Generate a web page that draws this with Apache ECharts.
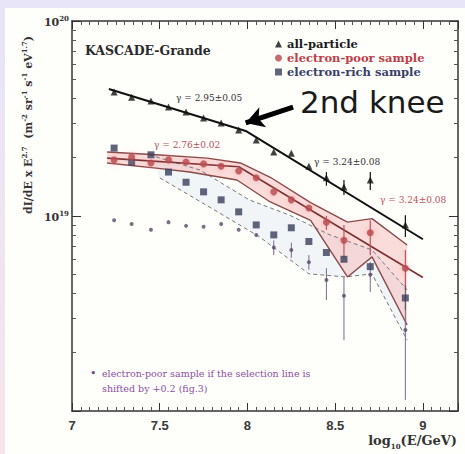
<!DOCTYPE html>
<html>
<head>
<meta charset="utf-8">
<script src="https://cdn.jsdelivr.net/npm/echarts@6/dist/echarts.min.js"></script>
<style>
html, body { margin: 0; padding: 0; background: #ffffff; }
#chart { width: 465px; height: 454px; }
</style>
</head>
<body>
<div id="chart"></div>
<script>
// log10(E/GeV) bin centres shared by all samples
const energyBins = [7.24, 7.34, 7.45, 7.55, 7.65, 7.75, 7.85, 7.95, 8.05, 8.15, 8.25, 8.35, 8.45, 8.55, 8.70, 8.90];

// dI/dE x E^2.7 per sample
const allParticle   = [4.33e19, 4.07e19, 3.89e19, 3.62e19, 3.41e19, 3.18e19, 3.00e19, 2.76e19, 2.45e19, 2.13e19, 2.10e19, 1.80e19, 1.57e19, 1.41e19, 1.53e19, 9.0e18];
const electronPoor  = [1.94e19, 2.01e19, 1.87e19, 1.94e19, 1.89e19, 1.85e19, 1.80e19, 1.70e19, 1.57e19, 1.33e19, 1.21e19, 1.10e19, 9.3e18, 7.5e18, 8.2e18, 5.4e18];
const electronRich  = [2.23e19, 1.89e19, 2.06e19, 1.68e19, 1.49e19, 1.33e19, 1.21e19, 1.05e19, 9.0e18, 8.0e18, 8.7e18, 7.4e18, 6.5e18, 6.0e18, 5.5e18, 3.8e18];
const shiftedPoor   = [9.5e18, 9.1e18, 8.5e18, 9.3e18, 8.9e18, 8.8e18, 9.1e18, 8.5e18, 8.0e18, 6.9e18, 6.7e18, 5.8e18, 4.7e18, 3.9e18, 5.0e18, 2.6e18];

// error bars [log10E, low, high]
const allParticleErr = [[8.45, 1.43e19, 1.68e19], [8.55, 1.28e19, 1.53e19], [8.70, 1.36e19, 1.68e19], [8.90, 7.8e18, 1.01e19]];
const electronPoorErr = [[8.45, 8.5e18, 1.0e19], [8.55, 6.1e18, 9.0e18], [8.70, 6.3e18, 9.5e18], [8.90, 4.18e18, 6.7e18]];
const electronRichErr = [[8.90, 3.3e18, 4.4e18]];
const shiftedPoorErr = [[8.15, 6.3e18, 7.5e18], [8.25, 6.1e18, 7.3e18], [8.35, 5.3e18, 6.3e18], [8.45, 3.71e18, 5.4e18], [8.55, 2.31e18, 4.87e18], [8.70, 4.08e18, 5.8e18], [8.90, 1.14e18, 3.71e18]];

// broken power-law fits [log10E, value]
const allParticleFit  = [[7.21, 4.48e19], [7.99, 2.73e19], [9.00, 7.6e18]];
const electronPoorFit = [[7.20, 1.98e19], [7.95, 1.79e19], [9.00, 4.84e18]];

// systematic band of the electron-poor sample
const poorBandUpper = [[7.20, 2.13e19], [7.48, 2.06e19], [7.77, 1.98e19], [7.96, 1.87e19], [8.13, 1.58e19], [8.36, 1.17e19], [8.57, 9.3e18], [8.71, 9.7e18], [8.91, 7.1e18]];
const poorBandLower = [[7.20, 1.87e19], [7.48, 1.76e19], [7.67, 1.68e19], [7.94, 1.53e19], [8.13, 1.18e19], [8.36, 9.5e18], [8.57, 4.87e18], [8.71, 6.17e18], [8.91, 2.76e18]];

// systematic band of the electron-rich sample
const richBandUpper = [[7.44, 2.06e19], [7.73, 1.72e19], [8.01, 1.21e19], [8.24, 1.01e19], [8.47, 8.0e18], [8.71, 6.7e18], [8.91, 4.18e18]];
const richBandLower = [[7.50, 1.57e19], [7.83, 1.05e19], [8.07, 7.8e18], [8.35, 5.05e18], [8.56, 4.87e18], [8.71, 5.05e18], [8.91, 2.31e18]];

// knee arrow, tail then tip
const kneeArrow = [[8.26, 3.62e19], [7.99, 3.0e19]];

const xTicks = [7, 7.5, 8, 8.5, 9];

const serif = '"DejaVu Serif", "Liberation Serif", serif';
const pair = (xs, ys) => xs.map((x, i) => [x, ys[i]]);

function bandPolygon(upper, lower, fill) {
  return function (params, api) {
    const pts = upper.concat(lower.slice().reverse()).map(p => api.coord(p));
    return { type: 'polygon', shape: { points: pts }, style: { fill: fill }, silent: true };
  };
}

function errorBars(color, width) {
  return function (params, api) {
    const x = api.value(0);
    const a = api.coord([x, api.value(1)]);
    const b = api.coord([x, api.value(2)]);
    return { type: 'line', shape: { x1: a[0], y1: a[1], x2: b[0], y2: b[1] }, style: { stroke: color, lineWidth: width } };
  };
}

const chart = echarts.init(document.getElementById('chart'), null, { renderer: 'svg' });

const sup = { fontFamily: serif, fontWeight: 'bold', fontSize: 7, color: '#333', verticalAlign: 'bottom', padding: [0, 0, 6, 0] };

chart.setOption({
  backgroundColor: '#fefefb',
  animation: false,
  title: {
    text: 'KASCADE-Grande',
    left: 80, top: 39,
    textStyle: { fontFamily: serif, fontWeight: 'bold', fontSize: 12.5, color: '#2a2a2a' }
  },
  legend: {
    orient: 'vertical',
    left: 270, top: 33,
    itemWidth: 7, itemHeight: 7, itemGap: 2,
    textStyle: { fontFamily: serif, fontWeight: 'bold', fontSize: 11.5 },
    data: [
      { name: 'all-particle', icon: 'triangle', textStyle: { color: '#1a1a1a' } },
      { name: 'electron-poor sample', icon: 'circle', textStyle: { color: '#c0404a' } },
      { name: 'electron-rich sample', icon: 'rect', textStyle: { color: '#3a3f6a' } }
    ]
  },
  grid: { left: 72, right: 7, top: 21, bottom: 43 },
  xAxis: [{
    type: 'value', min: 7, max: 9.2, interval: 0.5,
    axisLine: { lineStyle: { color: '#333', width: 1.5 } },
    axisTick: { inside: true, length: 8, lineStyle: { color: '#333' } },
    minorTick: { show: true, splitNumber: 10, length: 4, lineStyle: { color: '#555' } },
    splitLine: { show: false },
    axisLabel: {
      margin: 8,
      fontFamily: '"Liberation Sans", Arial, sans-serif', fontWeight: 'bold', fontSize: 13, color: '#3a3a3a',
      formatter: v => xTicks.includes(Math.round(v * 10) / 10) ? String(v) : ''
    }
  }, {
    type: 'value', min: 7, max: 9.2, interval: 0.5, position: 'top',
    axisLine: { lineStyle: { color: '#333', width: 1.5 } },
    axisTick: { inside: true, length: 8, lineStyle: { color: '#333' } },
    minorTick: { show: true, splitNumber: 10, length: 4, lineStyle: { color: '#555' } },
    splitLine: { show: false },
    axisLabel: { show: false }
  }],
  yAxis: [{
    type: 'log', logBase: 10, min: 1e18, max: 1e20,
    axisLine: { show: true, lineStyle: { color: '#333', width: 1.5 } },
    axisTick: { inside: true, length: 9, lineStyle: { color: '#333' } },
    minorTick: { show: true, splitNumber: 9, length: 4, lineStyle: { color: '#555' } },
    splitLine: { show: false },
    axisLabel: {
      margin: 3,
      formatter: v => {
        const e = Math.round(Math.log10(v));
        return e >= 19 ? '{b|10}{s|' + e + '}' : '';
      },
      rich: {
        b: { fontFamily: serif, fontWeight: 'bold', fontSize: 11, color: '#333', verticalAlign: 'bottom' },
        s: sup
      }
    }
  }, {
    type: 'log', logBase: 10, min: 1e18, max: 1e20, position: 'right',
    axisLine: { show: true, lineStyle: { color: '#333', width: 1.5 } },
    axisTick: { inside: true, length: 9, lineStyle: { color: '#333' } },
    minorTick: { show: true, splitNumber: 9, length: 4, lineStyle: { color: '#555' } },
    splitLine: { show: false },
    axisLabel: { show: false }
  }],
  graphic: [
    { type: 'rect', shape: { x: 0, y: 0, width: 465, height: 8 }, style: { fill: '#e7e5f7' }, silent: true },
    { type: 'rect', shape: { x: 0, y: 0, width: 5, height: 454 },
      style: { fill: new echarts.graphic.LinearGradient(0, 0, 0, 1, [{ offset: 0, color: '#e7e5f7' }, { offset: 1, color: '#f6e3ec' }]) }, silent: true },
    {
      type: 'text', x: 27, y: 125, rotation: Math.PI / 2,
      style: {
        text: '{b|dI/dE x E}{s|2.7}{b|  (m}{s|-2}{b| sr}{s|-1}{b| s}{s|-1}{b| eV}{s|1.7}{b|)}',
        align: 'center', verticalAlign: 'middle',
        rich: {
          b: { fontFamily: serif, fontWeight: 'bold', fontSize: 11, fill: '#333', verticalAlign: 'bottom' },
          s: { fontFamily: serif, fontWeight: 'bold', fontSize: 7, fill: '#333', verticalAlign: 'bottom', padding: [0, 0, 6, 0] }
        }
      }
    },
    {
      type: 'text', right: 8, top: 434,
      style: {
        text: '{b|log}{s|10}{b|(E/GeV)}',
        rich: {
          b: { fontFamily: serif, fontWeight: 'bold', fontSize: 13, fill: '#333', verticalAlign: 'top' },
          s: { fontFamily: serif, fontWeight: 'bold', fontSize: 7, fill: '#333', verticalAlign: 'top', padding: [9, 0, 0, 0] }
        }
      }
    },
    { type: 'text', x: 300, y: 102, style: { text: '2nd knee', fontFamily: '"DejaVu Sans", sans-serif', fontSize: 31, fill: '#1a1a1a', verticalAlign: 'middle' } },
    { type: 'text', x: 176, y: 98, style: { text: 'γ = 2.95±0.05', fontFamily: serif, fontSize: 9, fill: '#333', verticalAlign: 'middle' } },
    { type: 'text', x: 154, y: 145, style: { text: 'γ = 2.76±0.02', fontFamily: serif, fontSize: 9, fill: '#b0505a', verticalAlign: 'middle' } },
    { type: 'text', x: 314, y: 162, style: { text: 'γ = 3.24±0.08', fontFamily: serif, fontSize: 9, fill: '#333', verticalAlign: 'middle' } },
    { type: 'text', x: 380, y: 200, style: { text: 'γ = 3.24±0.08', fontFamily: serif, fontSize: 9, fill: '#c0505a', verticalAlign: 'middle' } },
    { type: 'text', x: 90, y: 373, style: { text: '•', fontFamily: serif, fontSize: 11, fill: '#6a4a7a', verticalAlign: 'middle' } },
    { type: 'text', x: 102, y: 373, style: { text: 'electron-poor sample if the selection line is', fontFamily: serif, fontSize: 9.5, fill: '#8a4f9e', verticalAlign: 'middle' } },
    { type: 'text', x: 102, y: 388, style: { text: 'shifted by +0.2 (fig.3)', fontFamily: serif, fontSize: 9.5, fill: '#8a4f9e', verticalAlign: 'middle' } }
  ],
  series: [
    { type: 'custom', name: 'rich band', data: [[7.5, 1e19]], renderItem: bandPolygon(richBandUpper, richBandLower, 'rgba(210,222,240,0.28)'), z: 1 },
    { type: 'custom', name: 'poor band', data: [[7.5, 1e19]], renderItem: bandPolygon(poorBandUpper, poorBandLower, 'rgba(246,196,196,0.6)'), z: 1 },
    { type: 'line', name: 'rich band upper', data: richBandUpper, symbol: 'none', lineStyle: { color: '#777', width: 1, type: [4, 3] }, z: 2 },
    { type: 'line', name: 'rich band lower', data: richBandLower, symbol: 'none', lineStyle: { color: '#777', width: 1, type: [4, 3] }, z: 2 },
    { type: 'line', name: 'poor band upper', data: poorBandUpper, symbol: 'none', lineStyle: { color: '#8a4a4a', width: 1.4 }, z: 2 },
    { type: 'line', name: 'poor band lower', data: poorBandLower, symbol: 'none', lineStyle: { color: '#8a4a4a', width: 1.4 }, z: 2 },
    { type: 'line', name: 'poor fit', data: electronPoorFit, symbol: 'none', lineStyle: { color: '#7a3030', width: 1.6 }, z: 3 },
    {
      type: 'line', name: 'all fit', data: allParticleFit, symbol: 'none', lineStyle: { color: '#111', width: 2 }, z: 3,
      markLine: {
        silent: true, symbol: ['none', 'arrow'], symbolSize: [16, 18],
        label: { show: false },
        lineStyle: { color: '#000', width: 5, type: 'solid' },
        data: [[{ coord: kneeArrow[0] }, { coord: kneeArrow[1] }]]
      }
    },
    { type: 'custom', name: 'shifted err', data: shiftedPoorErr, renderItem: errorBars('#7a6a8a', 1), z: 4 },
    { type: 'custom', name: 'poor err', data: electronPoorErr, renderItem: errorBars('#c05060', 1.2), z: 4 },
    { type: 'custom', name: 'rich err', data: electronRichErr, renderItem: errorBars('#555', 1), z: 4 },
    { type: 'custom', name: 'all err', data: allParticleErr, renderItem: errorBars('#111', 1.2), z: 4 },
    { type: 'scatter', name: 'shifted by +0.2', data: pair(energyBins, shiftedPoor), symbol: 'circle', symbolSize: 4, itemStyle: { color: '#5a4a66' }, z: 5 },
    { type: 'scatter', name: 'electron-rich sample', data: pair(energyBins, electronRich), symbol: 'rect', symbolSize: 7, itemStyle: { color: '#3a3f5a' }, z: 5 },
    { type: 'scatter', name: 'electron-poor sample', data: pair(energyBins, electronPoor), symbol: 'circle', symbolSize: 7,
      itemStyle: { color: '#b8464a', shadowBlur: 6, shadowColor: 'rgba(240,140,150,0.8)' }, z: 6 },
    { type: 'scatter', name: 'all-particle', data: pair(energyBins, allParticle), symbol: 'triangle', symbolSize: 7, itemStyle: { color: '#111' }, z: 6 }
  ]
});
</script>
</body>
</html>
